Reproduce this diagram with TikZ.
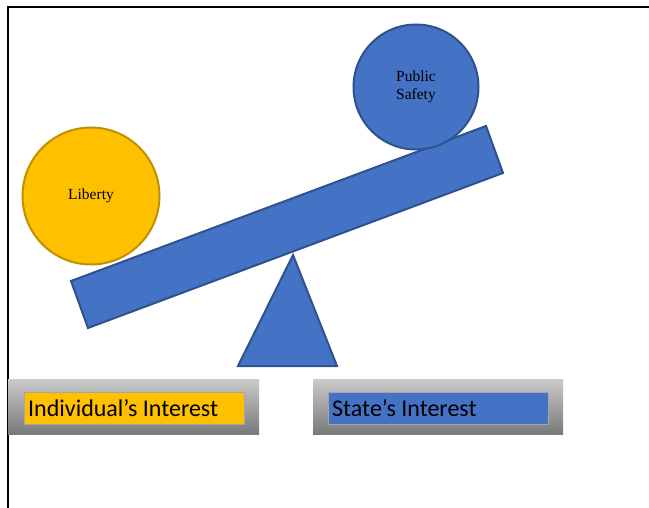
\documentclass[tikz,border=0pt]{standalone}
\usepackage{fontspec}
\setmainfont{Liberation Serif}
\newfontfamily\labelfont{Carlito}
\definecolor{ppblue}{RGB}{68,114,196}
\definecolor{ppblueedge}{RGB}{47,82,143}
\definecolor{ppgold}{RGB}{255,192,0}
\definecolor{ppgoldedge}{RGB}{191,144,0}
\definecolor{gtop}{RGB}{202,202,202}
\definecolor{gbot}{RGB}{122,122,122}
\tikzset{
  ball/.style={circle, line width=2pt, inner sep=0pt, align=center, font=\fontsize{15.5}{18.5}\selectfont},
  panel/.style={shade, top color=gtop, bottom color=gbot, draw=none},
  tag/.style={line width=0.5pt, draw=gray!70},
  tagtext/.style={anchor=west, inner sep=0pt, font=\labelfont\fontsize{24}{26}\selectfont}
}
\begin{document}
\begin{tikzpicture}[x=1pt,y=-1pt]
\useasboundingbox (0,0) rectangle (649,508);
% frame
\draw[line width=1.8pt] (8,508) -- (8,7) -- (649,7);
% fulcrum
\draw[fill=ppblue, draw=ppblueedge, line width=2pt, line join=miter] (293,255) -- (337,366) -- (238,366) -- cycle;
% beam
\draw[fill=ppblue, draw=ppblueedge, line width=2pt] (71,281) -- (88,328) -- (503,173) -- (486,126) -- cycle;
% balls
\node[ball, fill=ppgold, draw=ppgoldedge, minimum size=137pt] (liberty) at (91,196) {Liberty};
\node[ball, fill=ppblue, draw=ppblueedge, minimum size=125pt] (safety) at (416,87) {Public\\Safety};
% label panels
\path[panel] (8,379) rectangle (259,434);
\path[panel] (313,379) rectangle (563,434);
\draw[tag, fill=ppgold] (24,392) rectangle (244,424);
\draw[tag, fill=ppblue] (328,392) rectangle (548,424);
\node[tagtext] (indiv) at (28,408) {Individual’s Interest};
\node[tagtext] (state) at (332,408) {State’s Interest};
\end{tikzpicture}
\end{document}
